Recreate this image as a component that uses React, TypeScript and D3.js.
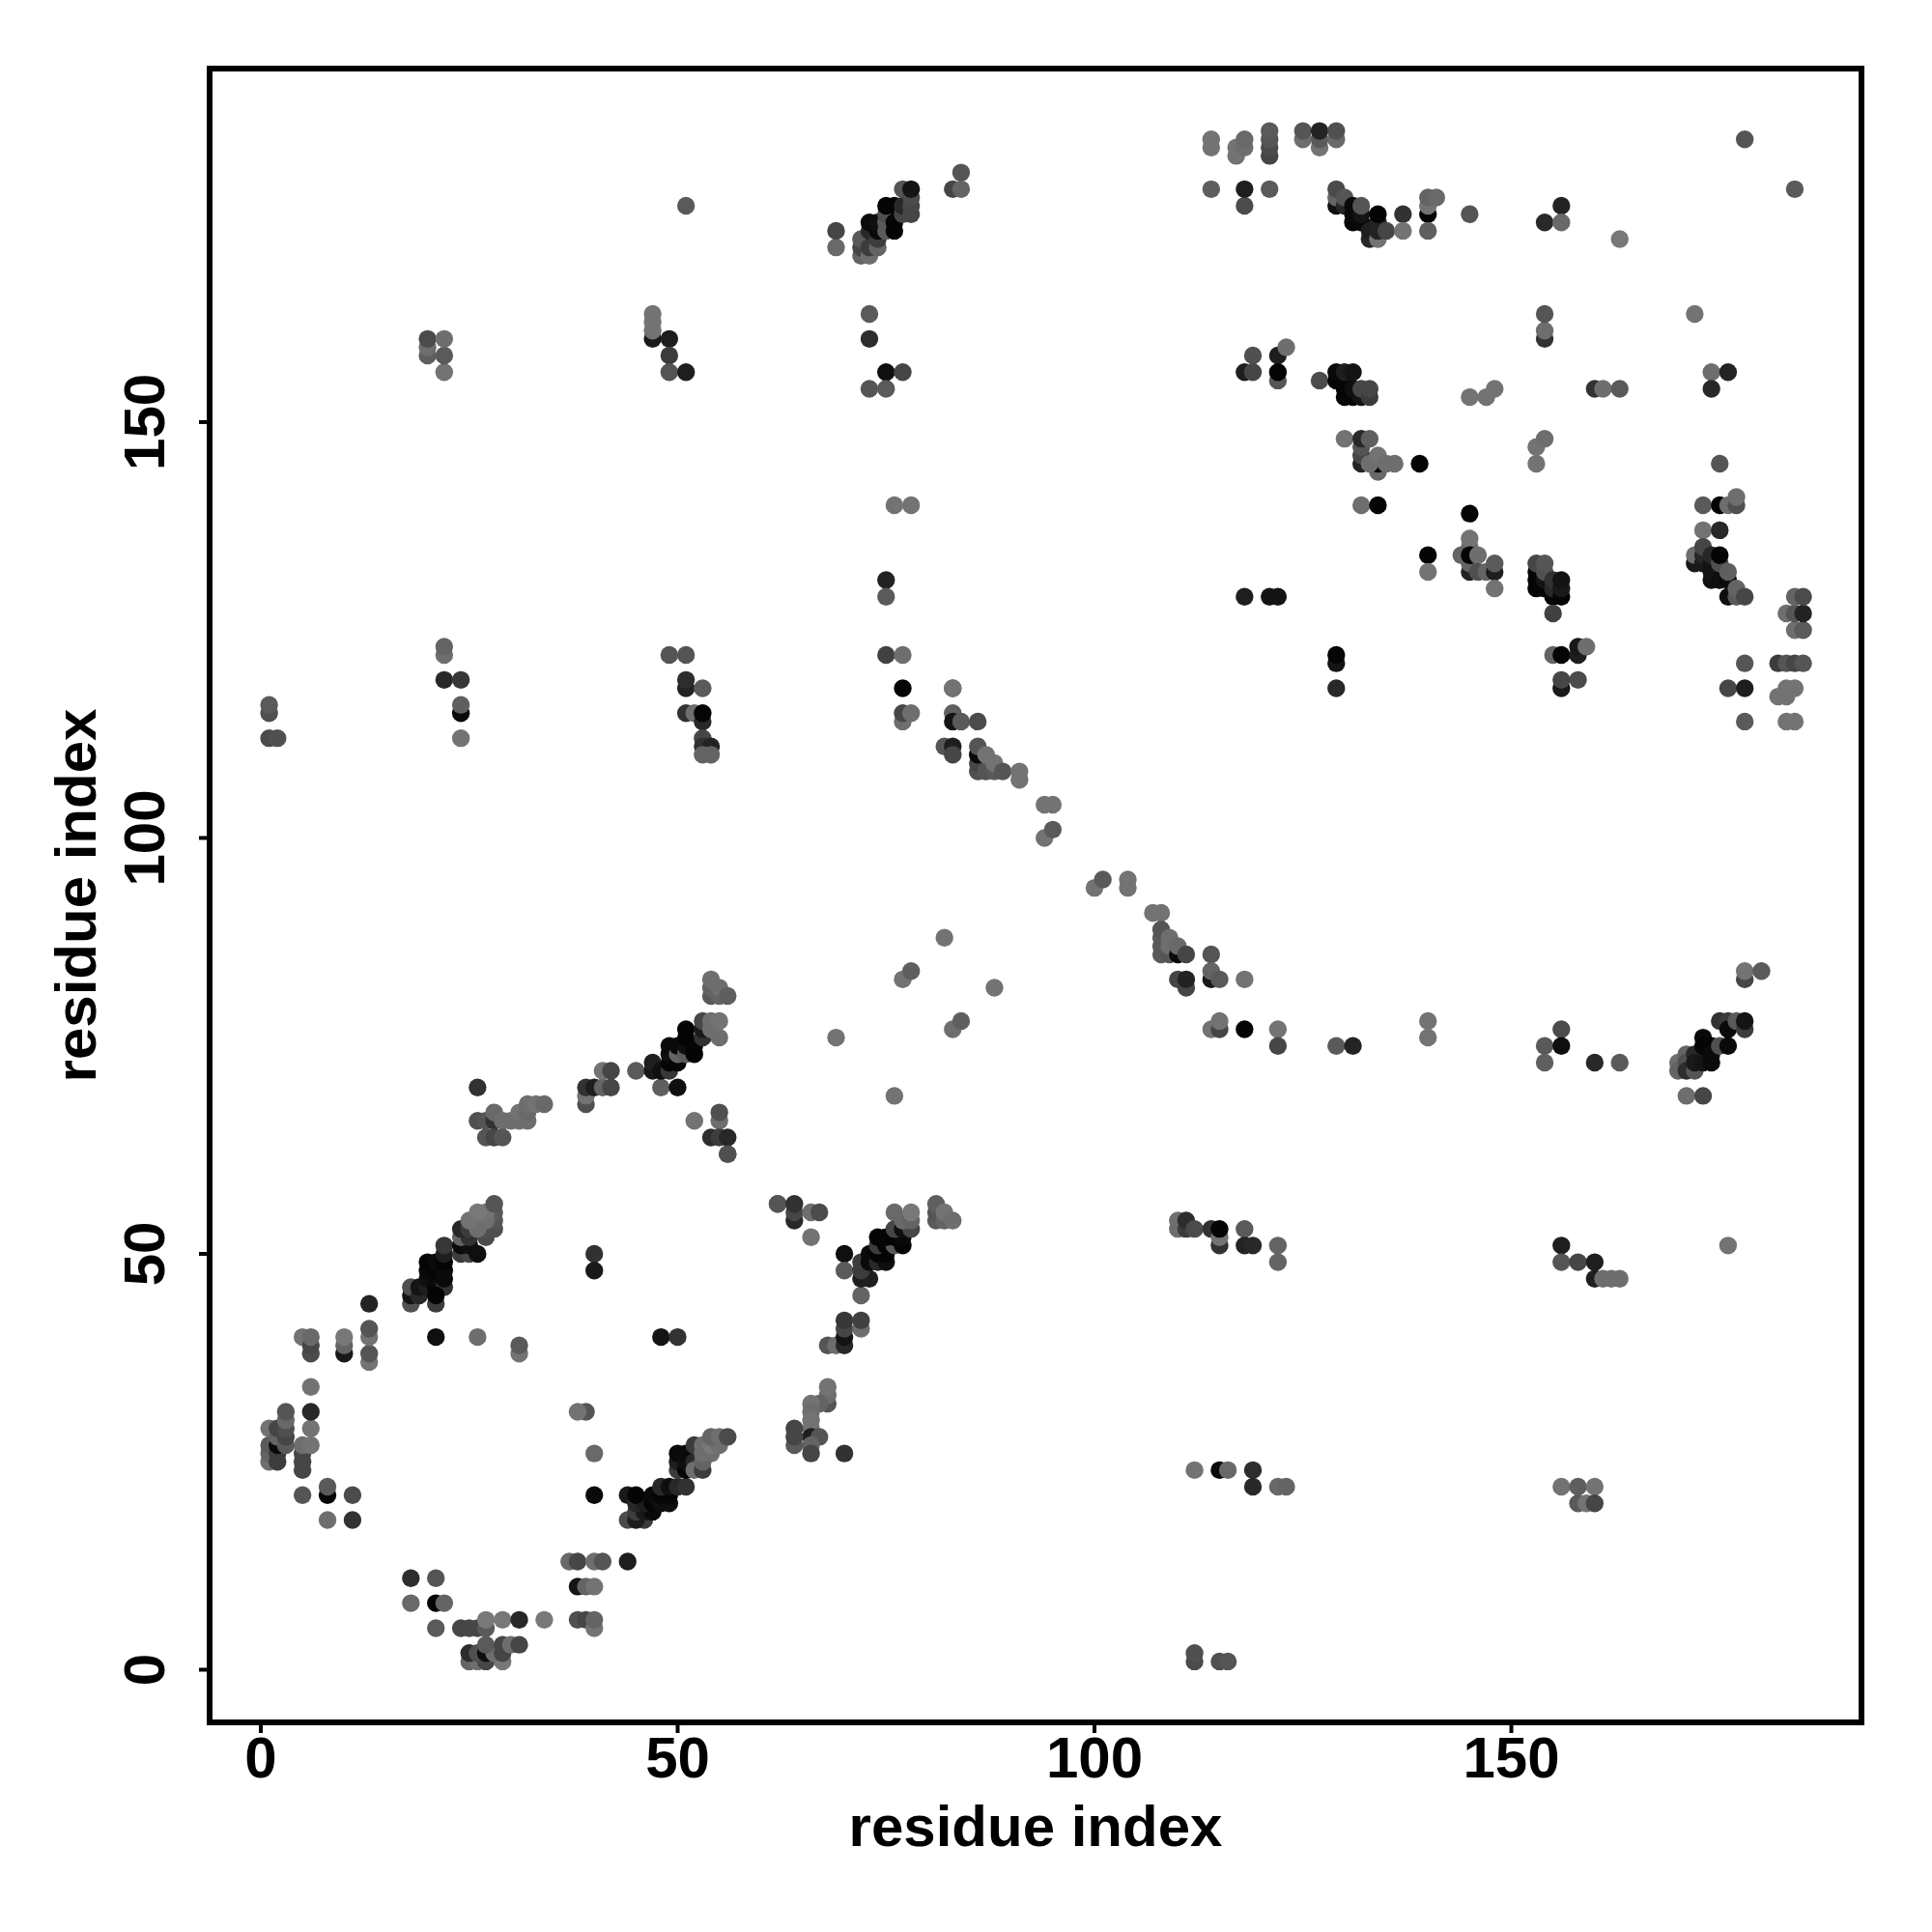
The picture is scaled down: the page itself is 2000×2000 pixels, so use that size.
import React from "react";
import * as d3 from "d3";

type P = [number, number, number];

const bottomArc: P[] = [[21,5,90],[24,5,70],[25,5,70],[26,5,70],[27,5,90],[27,6,120],[29,6,120],[31,6,40],[34,6,120],[38,6,80],[39,6,70],[40,5,115],[40,6,100],[18,11,45],[21,11,85],[18,8,105],[21,8,5],[22,8,100],[37,13,105],[38,13,70],[40,13,110],[41,13,85],[44,13,30],[38,10,20],[39,10,100],[40,10,115],[25,1,100],[26,1,110],[27,1,70],[29,1,120],[25,2,45],[26,2,80],[27,2,15],[28,2,110],[29,2,70],[27,3,90],[29,3,70],[30,3,110],[31,3,70]];
const leftCluster: P[] = [[5,21,85],[8,21,5],[8,22,90],[11,21,75],[8,18,110],[11,18,50],[5,24,70],[5,25,70],[5,26,70],[5,27,110],[6,27,115],[6,29,115],[6,31,40],[6,34,115],[1,25,110],[1,26,100],[1,27,90],[1,29,115],[2,25,60],[2,26,60],[2,27,10],[2,28,100],[2,29,70],[3,27,90],[3,28,70],[3,29,80],[3,30,105],[3,31,85]];
const row40: P[] = [[5,40,115],[6,38,75],[6,39,70],[6,40,105],[10,38,25],[10,39,100],[10,40,120],[13,37,115],[13,38,85],[13,40,115],[13,41,85],[13,44,35],[21,40,15],[26,40,110],[31,38,115],[31,39,90]];
const diagA: P[] = [[18,44,80],[18,45,20],[18,46,80],[21,44,60],[19,45,40],[19,46,20],[20,46,30],[20,47,15],[20,48,10],[20,49,5],[21,46,5],[21,47,10],[21,48,5],[21,49,10],[22,46,50],[22,47,10],[22,48,10],[22,49,5],[22,50,30],[22,51,55],[21,45,5],[24,50,60],[25,50,70],[26,50,15],[24,51,10],[25,51,15],[24,52,100],[25,52,50],[24,53,40],[25,53,60],[27,52,75],[27,53,80],[28,53,80],[28,54,85],[28,55,90],[26,53,110],[27,54,110],[25,54,115],[27,55,115],[26,55,120],[28,56,85]];
const diagB: P[] = [[44,18,75],[46,18,60],[45,18,30],[44,21,25],[45,19,60],[46,19,25],[47,19,10],[45,20,40],[46,20,30],[47,20,5],[45,21,5],[47,21,10],[48,20,15],[49,20,15],[48,21,5],[49,21,5],[48,22,40],[49,22,15],[50,22,40],[51,22,50],[50,24,60],[50,25,30],[50,26,10],[51,24,5],[51,25,15],[51,26,10],[52,25,40],[52,24,110],[53,24,60],[53,25,100],[52,27,60],[53,26,110],[53,27,110],[54,26,110],[54,27,120],[55,27,110],[54,28,100],[55,28,110],[56,28,75]];
const sparseA: P[] = [[39,31,85],[38,31,115],[40,26,105],[40,21,10],[40,50,50],[40,48,25],[48,40,20],[50,40,50],[56,62,85],[62,56,85]];
const helixLeft: P[] = [[26,70,50],[26,66,80],[27,66,85],[28,66,50],[28,67,105],[29,66,110],[30,66,110],[31,66,110],[31,67,115],[32,66,110],[32,67,105],[32,68,110],[33,68,115],[34,68,105],[27,64,85],[28,64,70],[29,64,85],[39,68,80],[39,69,115],[39,70,50],[40,70,30],[41,70,100],[42,70,70],[41,72,115],[42,72,70],[45,72,90],[48,70,95],[50,70,15]];
const diagC: P[] = [[47,72,25],[47,73,30],[48,72,15],[49,72,55],[49,73,5],[49,74,15],[49,75,10],[50,73,5],[50,74,100],[50,75,10],[51,74,90],[51,75,15],[51,76,5],[51,77,5],[52,74,5],[52,75,5],[53,76,50],[53,77,25],[53,78,70],[54,77,110],[54,78,110],[55,76,110],[55,78,115],[54,81,90],[54,82,100],[54,83,110],[55,81,100],[55,82,110],[56,81,95],[52,66,115],[55,66,110],[55,67,80],[54,64,45],[55,64,60],[56,64,40],[56,62,80]];
const sparseB: P[] = [[82,88,115],[77,83,115],[78,84,95],[88,82,115],[83,77,110],[84,78,95],[69,76,115],[76,69,115]];
const diagD: P[] = [[62,56,85],[64,54,40],[64,55,70],[64,56,50],[66,55,110],[67,55,75],[66,52,115],[70,50,15],[70,48,90],[72,45,100],[72,47,30],[73,47,30],[72,48,60],[72,49,60],[73,49,10],[73,50,10],[74,49,40],[75,49,15],[74,50,5],[75,50,5],[74,51,60],[75,51,5],[76,51,90],[77,51,5],[74,52,5],[75,52,5],[76,52,5],[77,52,10],[76,53,70],[77,53,15],[78,53,70],[76,55,105],[77,54,105],[78,54,100],[78,55,120],[81,54,90],[81,55,85],[81,56,95],[82,54,100],[82,55,115],[83,54,110]];
const lowerStem: P[] = [[68,39,85],[69,39,110],[70,39,40],[70,40,20],[70,41,70],[70,42,55],[72,41,110],[72,42,65],[68,32,85],[68,33,110],[68,34,115],[67,32,100],[66,32,115],[66,31,110],[66,30,115],[66,29,115],[66,28,30],[67,28,85],[66,27,100],[66,26,70],[64,27,90],[64,28,70],[64,29,70],[70,26,50]];
const antiDiag: P[] = [[83,118,90],[83,115,95],[83,114,20],[84,114,90],[82,111,85],[83,111,30],[83,110,70],[86,114,75],[86,108,80],[86,109,70],[86,110,10],[86,111,85],[87,108,85],[87,110,115],[88,108,90],[88,109,115],[89,108,85],[91,107,115],[91,108,115],[94,104,115],[95,104,115],[94,100,115],[95,101,90],[100,94,115],[101,95,90],[104,94,115],[104,95,115],[107,91,115],[108,91,115],[108,86,90],[108,87,90],[108,88,90],[108,89,85],[109,86,85],[109,87,110],[109,88,110],[110,86,10],[110,87,105],[111,86,70],[114,86,85],[114,83,25],[114,84,100],[115,83,90],[118,83,115],[110,83,70],[111,82,70],[111,83,35]];
const midRow: P[] = [[114,77,115],[115,77,70],[115,78,115],[118,77,5],[122,77,115],[122,75,70],[129,75,90],[131,75,35],[140,78,115],[140,76,115],[156,77,75],[154,75,90],[156,75,15],[154,73,95],[160,73,40],[163,73,90]];
const diagE: P[] = [[170,73,110],[170,72,100],[171,74,100],[171,73,80],[171,72,45],[172,72,85],[172,74,40],[172,73,25],[173,73,20],[173,76,10],[173,75,5],[174,73,10],[174,75,5],[174,74,10],[175,75,80],[176,75,10],[175,78,50],[176,78,60],[176,77,10],[177,78,90],[178,77,60],[178,78,20],[178,83,70],[178,84,115],[180,84,90],[171,69,110],[173,69,70]];
const row50: P[] = [[110,53,110],[110,54,110],[111,53,60],[111,54,45],[112,53,75],[114,53,50],[115,51,50],[115,52,115],[115,53,5],[118,53,90],[118,51,35],[119,51,40],[122,51,100],[122,49,100],[156,51,30],[156,49,85],[158,49,70],[160,49,30],[160,47,30],[161,47,110],[162,47,110],[163,47,110],[176,51,115]];
const row20: P[] = [[112,24,115],[115,24,10],[116,24,105],[119,24,45],[119,22,40],[122,22,105],[123,22,100],[156,22,115],[158,22,95],[160,22,115],[158,20,90],[159,20,115],[160,20,70],[112,1,75],[112,2,80],[115,1,80],[116,1,85]];
const topRight: P[] = [[114,183,115],[114,184,115],[117,182,115],[117,183,115],[118,183,110],[118,184,105],[121,182,70],[121,183,75],[121,184,85],[121,185,90],[125,184,110],[125,185,85],[127,183,115],[127,184,90],[127,185,35],[129,184,105],[129,185,80],[178,184,85],[184,178,90],[114,178,95],[118,176,75],[118,178,30],[121,178,90],[129,176,15],[129,177,100],[129,178,75],[130,176,40],[130,177,85],[131,174,5],[131,175,10],[131,176,10],[132,174,10],[132,175,20],[132,176,85],[133,172,40],[133,173,30],[134,172,115],[134,173,35],[134,174,35],[134,175,5],[135,173,70],[137,175,50],[137,173,115],[140,175,5],[140,176,115],[140,177,100],[140,173,95],[141,177,105],[145,175,85],[156,176,35],[154,174,40],[156,174,105],[163,172,120]];
const secondRow: P[] = [[154,160,50],[154,161,110],[154,163,85],[172,163,115],[119,158,80],[122,158,30],[123,159,110],[122,155,85],[122,156,5],[118,156,30],[119,156,70],[127,155,75],[129,155,5],[129,156,10],[130,153,5],[130,154,5],[130,155,5],[130,156,30],[131,153,5],[131,154,15],[131,156,20],[132,153,20],[132,154,70],[133,153,60],[133,154,70],[145,153,115],[147,153,115],[148,154,115],[160,154,50],[161,154,110],[163,154,90],[174,156,110],[176,156,35],[174,154,40]];
const thirdRow: P[] = [[130,148,115],[132,145,35],[132,146,70],[132,147,85],[132,148,40],[133,148,95],[134,144,105],[134,145,5],[133,145,110],[134,146,115],[135,145,110],[136,145,110],[139,145,5],[153,145,115],[153,147,115],[154,148,110],[175,145,85],[132,140,110],[134,140,5],[145,139,5],[173,140,90],[175,140,5],[176,140,110],[177,140,80],[177,141,110],[173,137,115],[175,137,40]];
const cluster130: P[] = [[140,134,5],[140,132,115],[145,135,110],[145,136,115],[144,134,100],[145,132,35],[145,133,100],[145,134,5],[146,134,110],[146,132,80],[147,132,100],[148,132,30],[148,133,90],[148,130,115],[153,130,5],[153,131,5],[153,132,5],[153,133,70],[154,130,5],[154,131,20],[154,132,80],[154,133,85],[155,129,5],[155,130,40],[155,131,50],[156,129,5],[156,130,25],[156,131,20],[155,127,65],[121,129,20],[122,129,20],[118,129,30],[129,121,20],[129,122,5],[129,118,40],[155,122,100],[156,122,5],[158,122,30],[158,123,25],[159,123,110],[156,118,25],[156,119,70],[158,119,75]];
const cluster175: P[] = [[172,133,25],[172,134,110],[173,133,25],[173,134,40],[173,135,70],[174,131,15],[174,132,20],[174,133,20],[174,134,40],[175,131,15],[175,133,80],[175,134,5],[176,129,15],[176,131,10],[176,132,95],[177,129,90],[177,130,100],[178,129,70],[183,127,110],[184,125,110],[184,127,85],[184,129,100],[185,125,90],[185,127,35],[185,129,75],[178,121,85],[182,121,60],[183,121,85],[184,121,70],[185,121,85],[176,118,70],[178,118,30],[182,117,115],[183,117,115],[183,118,115],[184,118,115],[178,114,90],[183,114,115],[184,114,115]];
const topLeftDiag: P[] = [[69,171,105],[69,173,70],[72,170,100],[72,171,70],[72,172,90],[73,170,110],[73,171,60],[73,173,40],[73,174,10],[74,171,100],[74,172,60],[74,173,10],[74,174,15],[75,173,90],[75,174,90],[75,175,80],[75,176,5],[76,173,5],[76,174,5],[76,176,5],[77,175,70],[77,176,40],[77,178,85],[78,175,70],[78,176,70],[78,177,75],[78,178,20],[83,178,70],[84,178,100],[84,180,85],[51,176,90]];
const upperLeft: P[] = [[20,158,95],[20,159,110],[20,160,75],[22,156,115],[22,158,90],[22,160,110],[47,160,25],[47,161,115],[47,162,115],[47,163,115],[49,160,30],[49,158,60],[49,156,85],[51,156,30],[73,163,90],[73,160,45],[75,156,15],[77,156,70],[73,154,85],[75,154,90],[76,140,115],[78,140,115],[75,131,35],[75,129,90],[49,122,85],[51,122,85],[75,122,65],[77,122,110],[22,122,110],[22,123,100],[22,119,40],[24,119,55],[24,115,10],[24,116,95],[24,112,115],[1,115,80],[1,116,90],[1,112,75],[2,112,80],[51,118,35],[51,119,45],[53,118,90],[51,115,50],[52,115,110],[53,114,40],[53,115,5],[53,112,70],[53,111,50],[54,111,35],[53,110,100],[54,110,100],[77,118,5],[77,114,110],[77,115,70],[78,115,110],[83,118,115]];

const groups: P[][] = [bottomArc, leftCluster, row40, diagA, diagB, sparseA, helixLeft, diagC, sparseB, diagD, lowerStem, antiDiag, midRow, diagE, row50, row20, topRight, secondRow, thirdRow, cluster130, cluster175, topLeftDiag, upperLeft];

const xTicks = [0, 50, 100, 150];
const yTicks = [0, 50, 100, 150];
const axisLabel = "residue index";
const FONT = "'Liberation Sans', Arial, sans-serif";

const left = 217, right = 1927, top = 71, bottom = 1783;
const x = d3.scaleLinear().domain([-6.14, 192]).range([left, right]);
const y = d3.scaleLinear().domain([-6.33, 192.5]).range([bottom, top]);

export default function App() {
  return (
    <svg width={2000} height={2000} style={{ position: "absolute", left: 0, top: 0, background: "#fff" }} fontFamily={FONT} fontWeight="bold" fill="#000">
      {groups.flat().map(([a, b, g], k) => (
        <circle key={k} cx={x(a)} cy={y(b)} r={9.2} fill={d3.rgb(g, g, g).formatHex()} />
      ))}
      <rect x={left} y={top} width={right - left} height={bottom - top} fill="none" stroke="#000" strokeWidth={6} />
      {xTicks.map((t) => (
        <g key={t}>
          <line x1={x(t)} x2={x(t)} y1={bottom} y2={bottom + 11} stroke="#000" strokeWidth={4} />
          <text x={x(t)} y={1840} fontSize={60} textAnchor="middle">{t}</text>
        </g>
      ))}
      {yTicks.map((t) => (
        <g key={t}>
          <line x1={left - 11} x2={left} y1={y(t)} y2={y(t)} stroke="#000" strokeWidth={4} />
          <text transform={`translate(170,${y(t)}) rotate(-90)`} fontSize={60} textAnchor="middle">{t}</text>
        </g>
      ))}
      <text x={(left + right) / 2} y={1911} fontSize={60} textAnchor="middle">{axisLabel}</text>
      <text transform={`translate(99,${(top + bottom) / 2}) rotate(-90)`} fontSize={60} textAnchor="middle">{axisLabel}</text>
    </svg>
  );
}
